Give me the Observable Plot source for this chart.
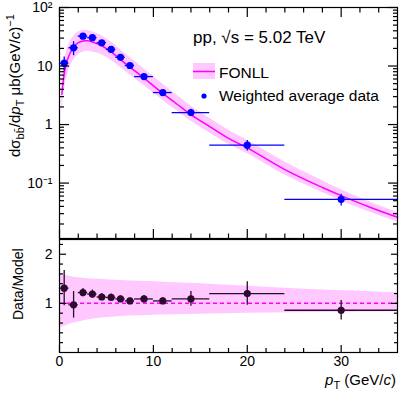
<!DOCTYPE html>
<html><head><meta charset="utf-8">
<script src="https://cdn.jsdelivr.net/npm/d3@7"></script>
<script src="https://cdn.jsdelivr.net/npm/@observablehq/plot@0.6"></script>
<style>
body{margin:0;background:#fff;}
#wrap{position:relative;width:409px;height:399px;font-family:"Liberation Sans",Arial,Helvetica,sans-serif;}
#wrap svg{position:absolute;left:0;overflow:visible;}
</style></head>
<body><div id="wrap"></div>
<script>
// ---- data ----
const dataPt    = [0.5, 1.5, 2.5, 3.5, 4.5, 5.5, 6.5, 7.5, 9, 11, 14, 20, 30];
const binLow    = [0, 1, 2, 3, 4, 5, 6, 7, 8, 10, 12, 16, 24];
const binHigh   = [1, 2, 3, 4, 5, 6, 7, 8, 10, 12, 16, 24, 36];
const xsecValue = [11.2, 20.5, 32.4, 30.5, 25.0, 19.2, 14.1, 10.2, 6.6, 3.52, 1.6, 0.444, 0.0527];
const xsecErr   = [3.0, 5.5, 2.2, 2.0, 1.6, 1.2, 0.8, 0.6, 0.45, 0.25, 0.22, 0.09, 0.012];
const ratioValue= [1.31, 0.97, 1.22, 1.19, 1.13, 1.12, 1.09, 1.05, 1.09, 1.05, 1.09, 1.20, 0.86];
const ratioErr  = [0.36, 0.27, 0.085, 0.08, 0.07, 0.07, 0.06, 0.06, 0.07, 0.07, 0.15, 0.24, 0.20];

const fonllPt      = [0.25, 0.4, 0.5, 0.7, 1.0, 1.5, 2.0, 2.5, 3.0, 3.5, 4.5, 5.5, 6.5, 7.5, 9, 11, 13, 14, 16, 18, 20, 24, 28, 30, 33, 36];
const fonllCentral = [3.3, 5.5, 7.2, 10.5, 15, 21, 25, 26.8, 27, 25.8, 22.2, 17.4, 12.9, 9.6, 6.2, 3.4, 1.95, 1.48, 0.92, 0.58, 0.40, 0.17, 0.084, 0.061, 0.039, 0.026];
const fonllHigh    = [5.3, 8.7, 11.4, 16.4, 23.3, 32.1, 38, 40.5, 40.5, 38.5, 33, 25.7, 19, 14, 9, 4.9, 2.77, 2.08, 1.28, 0.8, 0.54, 0.23, 0.11, 0.077, 0.048, 0.0315];
const fonllLow     = [1.6, 2.8, 3.7, 5.6, 8.6, 12.6, 15.5, 17.2, 17.8, 17.4, 15.6, 12.5, 9.4, 7.1, 4.65, 2.6, 1.5, 1.15, 0.72, 0.46, 0.32, 0.137, 0.069, 0.05, 0.032, 0.0216];

const bandPt   = [0, 0.5, 1, 1.5, 2, 3, 4, 5, 7, 10, 15, 20, 25, 30, 36];
const bandHigh = [1.60, 1.58, 1.55, 1.53, 1.52, 1.50, 1.49, 1.48, 1.46, 1.44, 1.40, 1.35, 1.30, 1.26, 1.21];
const bandLow  = [0.51, 0.53, 0.57, 0.60, 0.62, 0.66, 0.69, 0.71, 0.74, 0.76, 0.78, 0.80, 0.81, 0.82, 0.83];

const xMajor = [0, 10, 20, 30];
const xMinor = [2, 4, 6, 8, 12, 14, 16, 18, 22, 24, 26, 28, 32, 34];
const yLogMajor = [0.1, 1, 10, 100];
const yLogLabels = ["10\u207B\u00B9", "1", "10", "10\u00B2"];
const yLogMinor = [0.02,0.03,0.04,0.05,0.06,0.07,0.08,0.09, 0.2,0.3,0.4,0.5,0.6,0.7,0.8,0.9, 2,3,4,5,6,7,8,9, 20,30,40,50,60,70,80,90];
const rMajor = [1, 2];
const rMinor = [0.2, 0.4, 0.6, 0.8, 1.2, 1.4, 1.6, 1.8, 2.2];

// ---- tables ----
const pts = dataPt.map((x, i) => ({x, lo: binLow[i], hi: binHigh[i], v: xsecValue[i], e: xsecErr[i], r: ratioValue[i], re: ratioErr[i]}));
const fonll = fonllPt.map((x, i) => ({x, c: fonllCentral[i], h: fonllHigh[i], l: fonllLow[i]}));
const band = bandPt.map((x, i) => ({x, h: bandHigh[i], l: bandLow[i]}));

const BLUE = "#0000ff", MAG = "#ff00ff", PINK = "#ffc8ff", DARK = "#2e0a30";
const FONT = "\"Liberation Sans\", Arial, Helvetica, sans-serif";
const W = 409;

const topPlot = Plot.plot({
  width: W, height: 239,
  marginLeft: 59, marginRight: 12, marginTop: 7, marginBottom: 1,
  style: {fontFamily: FONT, fontSize: "14px", color: "#000", background: "transparent"},
  x: {domain: [0, 36], axis: null},
  y: {type: "log", domain: [0.0113, 100], axis: null},
  marks: [
    Plot.areaY(fonll, {x: "x", y1: "l", y2: "h", fill: PINK, curve: "catmull-rom"}),
    Plot.line(fonll, {x: "x", y: "c", stroke: MAG, strokeWidth: 1.5, curve: "catmull-rom"}),
    Plot.ruleY(pts, {y: "v", x1: "lo", x2: "hi", stroke: BLUE, strokeWidth: 1.3}),
    Plot.ruleX(pts, {x: "x", y1: d => d.v - d.e, y2: d => d.v + d.e, stroke: BLUE, strokeWidth: 1.3}),
    Plot.dot(pts, {x: "x", y: "v", r: 3.6, fill: BLUE}),
    Plot.frame({stroke: "#000", strokeWidth: 1.2}),
    Plot.axisY({anchor: "left", ticks: yLogMajor, tickSize: -10, text: null, strokeWidth: 1.2}),
    Plot.axisY({anchor: "left", ticks: yLogMinor, tickSize: -5, text: null, strokeWidth: 1.2}),
    Plot.axisY({anchor: "right", ticks: yLogMajor, tickSize: -10, text: null, strokeWidth: 1.2}),
    Plot.axisY({anchor: "right", ticks: yLogMinor, tickSize: -5, text: null, strokeWidth: 1.2}),
    Plot.axisY({anchor: "left", ticks: yLogMajor, tickSize: 0, tickPadding: 7, fontSize: 14, label: null,
                tickFormat: d => yLogLabels[yLogMajor.indexOf(d)]}),
    Plot.axisX({anchor: "bottom", ticks: xMajor, tickSize: -9, text: null, strokeWidth: 1.2}),
    Plot.axisX({anchor: "bottom", ticks: xMinor, tickSize: -4.5, text: null, strokeWidth: 1.2}),
    Plot.axisX({anchor: "top", ticks: xMajor, tickSize: -9, text: null, strokeWidth: 1.2}),
    Plot.axisX({anchor: "top", ticks: xMinor, tickSize: -4.5, text: null, strokeWidth: 1.2})
  ]
});
topPlot.style.top = "0px";

const bottomPlot = Plot.plot({
  width: W, height: 161,
  marginLeft: 59, marginRight: 12, marginTop: 1, marginBottom: 47,
  style: {fontFamily: FONT, fontSize: "14px", color: "#000", background: "transparent"},
  x: {domain: [0, 36], axis: null},
  y: {domain: [0, 2.3], axis: null},
  marks: [
    Plot.areaY(band, {x: "x", y1: "l", y2: "h", fill: PINK, curve: "catmull-rom"}),
    Plot.ruleY([1], {stroke: MAG, strokeWidth: 1.5, strokeDasharray: "4,3"}),
    Plot.ruleY(pts, {y: "r", x1: "lo", x2: "hi", stroke: DARK, strokeWidth: 1.3}),
    Plot.ruleX(pts, {x: "x", y1: d => d.r - d.re, y2: d => d.r + d.re, stroke: DARK, strokeWidth: 1.3}),
    Plot.dot(pts, {x: "x", y: "r", r: 3.6, fill: DARK}),
    Plot.frame({stroke: "#000", strokeWidth: 1.2}),
    Plot.axisY({anchor: "left", ticks: rMajor, tickSize: -7, text: null, strokeWidth: 1.2}),
    Plot.axisY({anchor: "left", ticks: rMinor, tickSize: -4, text: null, strokeWidth: 1.2}),
    Plot.axisY({anchor: "right", ticks: rMajor, tickSize: -7, text: null, strokeWidth: 1.2}),
    Plot.axisY({anchor: "right", ticks: rMinor, tickSize: -4, text: null, strokeWidth: 1.2}),
    Plot.axisY({anchor: "left", ticks: rMajor, tickSize: 0, tickPadding: 7, fontSize: 14, label: null, tickFormat: d => String(d)}),
    Plot.axisX({anchor: "bottom", ticks: xMajor, tickSize: -7, text: null, strokeWidth: 1.2}),
    Plot.axisX({anchor: "bottom", ticks: xMinor, tickSize: -4, text: null, strokeWidth: 1.2}),
    Plot.axisX({anchor: "bottom", ticks: xMajor, tickSize: 0, tickPadding: 4, fontSize: 14, label: null, tickFormat: d => String(d)})
  ]
});
bottomPlot.style.top = "238px";

const wrap = document.getElementById("wrap");
wrap.appendChild(topPlot);
wrap.appendChild(bottomPlot);

// ---- annotations (text + legend) ----
const st = d3.select(topPlot);
const yt = st.append("text").attr("transform", "translate(20,157) rotate(-90)").attr("text-anchor", "start")
  .attr("font-size", 15).attr("font-family", FONT).attr("fill", "#000");
yt.append("tspan").text("d\u03C3");
yt.append("tspan").attr("font-size", 11).attr("dy", 4).text("bb\u0304");
yt.append("tspan").attr("dy", -4).text("/d");
yt.append("tspan").attr("font-style", "italic").text("p");
yt.append("tspan").attr("font-size", 11).attr("dy", 4).text("T");
yt.append("tspan").attr("dy", -4).text(" \u03BCb(GeV/");
yt.append("tspan").attr("font-style", "italic").text("c");
yt.append("tspan").text(")");
yt.append("tspan").attr("font-size", 11).attr("dy", -6).text("\u22121");

st.append("text").attr("x", 193).attr("y", 43).attr("text-anchor", "start").attr("font-size", 17)
  .attr("font-family", FONT).attr("fill", "#000").text("pp, \u221As = 5.02 TeV");

st.append("rect").attr("x", 193).attr("y", 63).attr("width", 22).attr("height", 16).attr("fill", PINK);
st.append("line").attr("x1", 193).attr("x2", 215).attr("y1", 71.5).attr("y2", 71.5).attr("stroke", MAG).attr("stroke-width", 1.5);
st.append("text").attr("x", 219).attr("y", 77.5).attr("text-anchor", "start").attr("font-size", 15.5).attr("font-family", FONT).text("FONLL");
st.append("circle").attr("cx", 204).attr("cy", 96).attr("r", 2.6).attr("fill", BLUE);
st.append("text").attr("x", 219).attr("y", 101).attr("text-anchor", "start").attr("font-size", 15.5).attr("font-family", FONT).text("Weighted average data");

const sb = d3.select(bottomPlot);
sb.append("text").attr("transform", "translate(23,82) rotate(-90)").attr("text-anchor", "start").attr("font-size", 14)
  .attr("font-family", FONT).text("Data/Model");
const xt = sb.append("text").attr("x", 396).attr("y", 147).attr("text-anchor", "end")
  .attr("font-size", 15).attr("font-family", FONT);
xt.append("tspan").attr("font-style", "italic").text("p");
xt.append("tspan").attr("font-size", 11).attr("dy", 4).text("T");
xt.append("tspan").attr("dy", -4).text(" (GeV/");
xt.append("tspan").attr("font-style", "italic").text("c");
xt.append("tspan").text(")");
</script></body></html>
